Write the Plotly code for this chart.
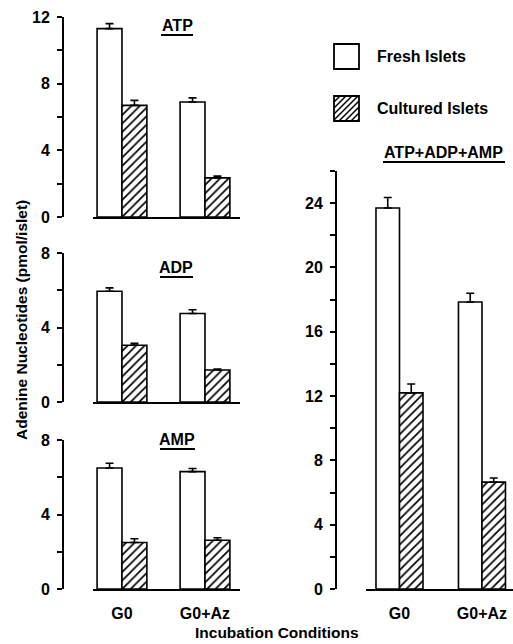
import plotly.graph_objects as go

# ---------------- data ----------------
conditions = ["G0", "G0+Az"]
series_names = ["Fresh Islets", "Cultured Islets"]

atp_fresh = [11.3, 6.9]
atp_fresh_err = [0.3, 0.25]
atp_cult = [6.7, 2.35]
atp_cult_err = [0.3, 0.1]

adp_fresh = [5.95, 4.75]
adp_fresh_err = [0.18, 0.2]
adp_cult = [3.05, 1.72]
adp_cult_err = [0.1, 0.05]

amp_fresh = [6.5, 6.3]
amp_fresh_err = [0.25, 0.17]
amp_cult = [2.5, 2.62]
amp_cult_err = [0.2, 0.13]

tot_fresh = [23.7, 17.85]
tot_fresh_err = [0.65, 0.55]
tot_cult = [12.2, 6.65]
tot_cult_err = [0.55, 0.25]

panel_titles = ["ATP", "ADP", "AMP", "ATP+ADP+AMP"]
y_title = "Adenine Nucleotides (pmol/islet)"
x_title = "Incubation Conditions"

# ---------------- helpers ----------------
W, H = 513, 644
FONT = "Liberation Sans, Arial, Helvetica, sans-serif"


def px(x):
    return x / W


def py(y):
    return 1 - y / H


fig = go.Figure()

panels = [
    # (fresh, fresh_err, cult, cult_err, axis suffix, bar width)
    (atp_fresh, atp_fresh_err, atp_cult, atp_cult_err, "", 0.30),
    (adp_fresh, adp_fresh_err, adp_cult, adp_cult_err, "2", 0.30),
    (amp_fresh, amp_fresh_err, amp_cult, amp_cult_err, "3", 0.30),
    (tot_fresh, tot_fresh_err, tot_cult, tot_cult_err, "4", 0.285),
]

for fresh, ferr, cult, cerr, sfx, bw in panels:
    xa, ya = "x" + sfx, "y" + sfx
    fig.add_trace(go.Bar(
        x=conditions, y=fresh, name=series_names[0], showlegend=False,
        xaxis=xa, yaxis=ya, width=bw, offset=-bw,
        marker=dict(color="white", line=dict(color="black", width=1.6)),
        error_y=dict(type="data", array=ferr, arrayminus=[0] * len(ferr),
                     symmetric=False, color="black", thickness=1.6, width=4),
    ))
    fig.add_trace(go.Bar(
        x=conditions, y=cult, name=series_names[1], showlegend=False,
        xaxis=xa, yaxis=ya, width=bw, offset=0,
        marker=dict(color="white", line=dict(color="black", width=1.6),
                    pattern=dict(shape="/", fgcolor="black", bgcolor="white",
                                 size=6, solidity=0.28, fillmode="replace")),
        error_y=dict(type="data", array=cerr, arrayminus=[0] * len(cerr),
                     symmetric=False, color="black", thickness=1.6, width=4),
    ))

tickfont = dict(family=FONT, size=16, color="black", weight="bold")

xcommon = dict(showline=True, linecolor="black", linewidth=2.4, ticks="",
               showgrid=False, zeroline=False, fixedrange=True, automargin=False,
               tickfont=tickfont, ticklabelstandoff=9)
ycommon = dict(showline=True, linecolor="black", linewidth=2, ticks="outside",
               ticklen=5, tickwidth=1.6, tickcolor="black", showgrid=False,
               zeroline=False, tickfont=tickfont, ticklabelstandoff=4,
               anchor="free", dtick=4, tick0=0, automargin=False,
               minor=dict(dtick=2, ticks="outside", ticklen=5, tickwidth=1.6,
                          tickcolor="black", showgrid=False))

left_x = [px(93), px(240)]
left_range = [-0.349, 1.4217]
right_x = [px(366), 1.0]
right_range = [-0.406, 1.376]

fig.update_layout(
    width=W, height=H,
    margin=dict(l=0, r=0, t=0, b=0, pad=0, autoexpand=False),
    paper_bgcolor="white", plot_bgcolor="rgba(0,0,0,0)",
    barmode="overlay",
    showlegend=False,
    xaxis=dict(xcommon, domain=left_x, range=left_range, anchor="y", showticklabels=False),
    xaxis2=dict(xcommon, domain=left_x, range=left_range, anchor="y2", showticklabels=False),
    xaxis3=dict(xcommon, domain=left_x, range=left_range, anchor="y3"),
    xaxis4=dict(xcommon, domain=right_x, range=right_range, anchor="y4"),
    yaxis=dict(ycommon, domain=[py(217), py(17)], range=[0, 12], position=px(63)),
    yaxis2=dict(ycommon, domain=[py(402), py(253)], range=[0, 8], position=px(63)),
    yaxis3=dict(ycommon, domain=[py(589), py(440)], range=[0, 8], position=px(63)),
    yaxis4=dict(ycommon, domain=[py(589), py(171)], range=[0, 26], position=px(336)),
)

annots = []
shapes = []
titlefont = dict(family=FONT, size=16, color="black", weight="bold")

# panel titles with underlines
title_pos = [(177, 25, 161, 193), (176, 267, 160, 193), (177, 439, 160, 195), (443, 152, 383, 505)]
for t, (cx, cy, ux0, ux1) in zip(panel_titles, title_pos):
    annots.append(dict(text=t, x=px(cx), y=py(cy), xref="paper", yref="paper",
                       showarrow=False, font=titlefont, xanchor="center", yanchor="middle"))
    shapes.append(dict(type="line", xref="paper", yref="paper",
                       x0=px(ux0), x1=px(ux1), y0=py(cy + 10), y1=py(cy + 10),
                       line=dict(color="black", width=2)))

# axis titles
axfont = dict(family=FONT, size=15.5, color="black", weight="bold")
annots.append(dict(text=y_title, x=px(21), y=py(320), xref="paper", yref="paper",
                   showarrow=False, textangle=-90, font=axfont,
                   xanchor="center", yanchor="middle"))
annots.append(dict(text=x_title, x=px(277), y=py(632), xref="paper", yref="paper",
                   showarrow=False, font=axfont, xanchor="center", yanchor="middle"))

# legend (manual keys)
legfont = dict(family=FONT, size=16, color="black", weight="bold")
key_boxes = [(334, 44, 359, 69), (334, 96, 359, 121)]
for i, (name, (x0, y0, x1, y1)) in enumerate(zip(series_names, key_boxes)):
    shapes.append(dict(type="rect", xref="paper", yref="paper",
                       x0=px(x0), x1=px(x1), y0=py(y1), y1=py(y0),
                       line=dict(color="black", width=1.8), fillcolor="white"))
    annots.append(dict(text=name, x=px(375), y=py((y0 + y1) / 2), xref="paper", yref="paper",
                       showarrow=False, font=legfont, xanchor="left", yanchor="middle"))
    if i == 1:
        step = 6
        segs = []
        size = x1 - x0
        for k in range(step, 2 * size, step):
            sx, sy = x0 + k, y0
            ex, ey = x0, y0 + k
            if sx > x1:
                sy = y0 + (sx - x1)
                sx = x1
            if ey > y1:
                ex = x0 + (ey - y1)
                ey = y1
            segs.append(f"M{px(sx)},{py(sy)} L{px(ex)},{py(ey)}")
        shapes.append(dict(type="path", xref="paper", yref="paper", path=" ".join(segs),
                           line=dict(color="black", width=1.5)))

fig.update_layout(annotations=annots, shapes=shapes)

fig.write_html(
    "out.html",
    config={"responsive": False, "displayModeBar": False},
    post_script="document.body.style.margin='0';document.body.style.padding='0';document.body.style.overflow='hidden';",
)
